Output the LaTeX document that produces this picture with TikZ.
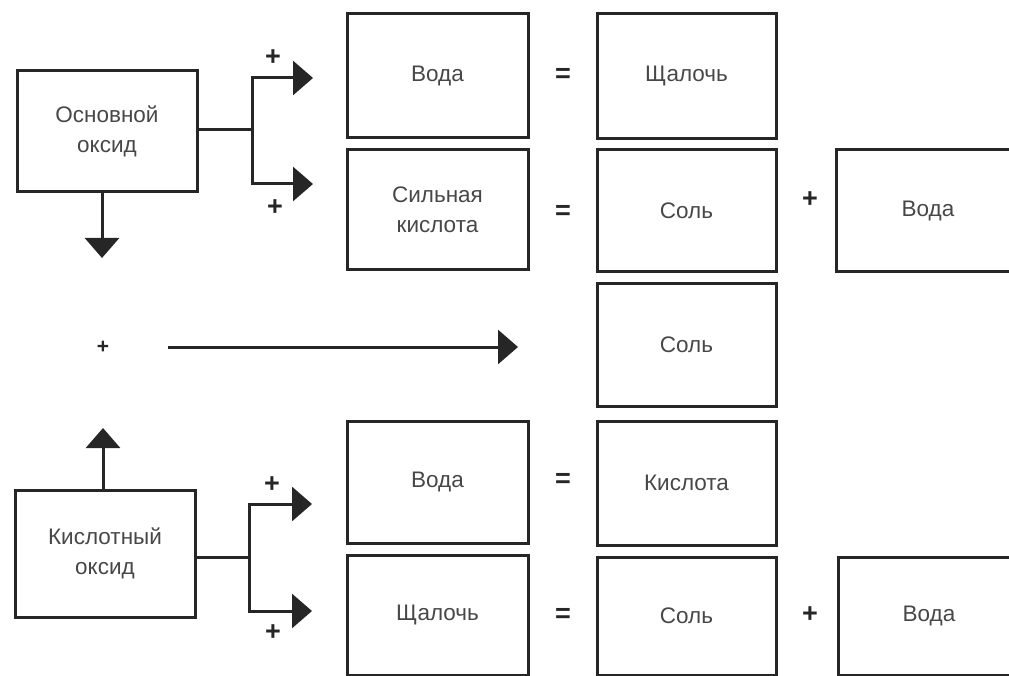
\documentclass[tikz,border=0pt]{standalone}
\usepackage{fontspec}
\setmainfont{Liberation Sans}
\usetikzlibrary{arrows.meta}
\begin{document}
\begin{tikzpicture}[x=1pt,y=-1pt,
  box/.style={draw=black!85, line width=3pt, inner sep=0pt, align=center,
    text=black!72, font=\fontsize{22.5}{30}\selectfont},
  sz/.style 2 args={minimum width=#1pt, minimum height=#2pt},
  link/.style={draw=black!85, line width=3pt},
  arr/.style={link, -{Triangle[length=20pt,width=34pt]}},
  sign/.style={text=black!85, inner sep=0pt, font=\fontsize{27}{27}\bfseries\selectfont}]
\useasboundingbox (0,0) rectangle (1009,676);
\clip (0,0) rectangle (1009,676);

% basic oxide and its reactions
\node[box, sz={180}{121}] (oxA) at (107,131.5) {Основной\\оксид};
\node[box, sz={181}{124}] (voda1) at (437.5,76) {Вода};
\node[box, sz={179}{125}] (shch1) at (686.5,76.5) {Щалочь};
\node[box, sz={181}{120}] (acid1) at (437.5,210) {Сильная\\кислота};
\node[box, sz={179}{122}] (sol1) at (686.5,211) {Соль};
\node[box, sz={184}{122}] (voda2) at (928,211) {Вода};

\node[sign] (eq1) at (563,75) {=};
\node[sign] (eq2) at (563,212) {=};
\node[sign] (pl1) at (810,200) {+};

\coordinate (jA) at (252,130);
\coordinate (tA1) at (313,78);
\coordinate (tA2) at (313,184);
\coordinate (dnA) at (102,258);
\draw[link] (oxA.east |- jA) -- (jA);
\draw[arr] (jA) |- (tA1);
\draw[arr] (jA) |- (tA2);
\node[sign] (pA1) at (273,58) {+};
\node[sign] (pA2) at (275,208) {+};
\draw[arr] (oxA.south -| dnA) -- (dnA);

% reaction of the two oxides with each other
\node[sign, font=\fontsize{21}{21}\bfseries\selectfont] (pm) at (103,347) {+};
\coordinate (mS) at (168,347);
\coordinate (mE) at (518,347);
\draw[arr] (mS) -- (mE);
\node[box, sz={179}{122}] (sol2) at (686.5,345) {Соль};

% acidic oxide and its reactions
\node[box, sz={180}{127}] (oxB) at (105,553.5) {Кислотный\\оксид};
\node[box, sz={181}{122}] (voda3) at (437.5,482) {Вода};
\node[box, sz={179}{124}] (kisl) at (686.5,483) {Кислота};
\node[box, sz={181}{120}] (shch2) at (437.5,615) {Щалочь};
\node[box, sz={179}{118}] (sol3) at (686.5,616) {Соль};
\node[box, sz={182}{118}] (voda4) at (929,616) {Вода};

\node[sign] (eq3) at (563,480) {=};
\node[sign] (eq4) at (563,615) {=};
\node[sign] (pl2) at (810,615) {+};

\coordinate (jB) at (249,557);
\coordinate (tB1) at (312,504);
\coordinate (tB2) at (312,611);
\coordinate (upB) at (103,428);
\draw[link] (oxB.east |- jB) -- (jB);
\draw[arr] (jB) |- (tB1);
\draw[arr] (jB) |- (tB2);
\node[sign] (pB1) at (272,485) {+};
\node[sign] (pB2) at (273,633) {+};
\draw[arr] (oxB.north -| upB) -- (upB);
\end{tikzpicture}
\end{document}
